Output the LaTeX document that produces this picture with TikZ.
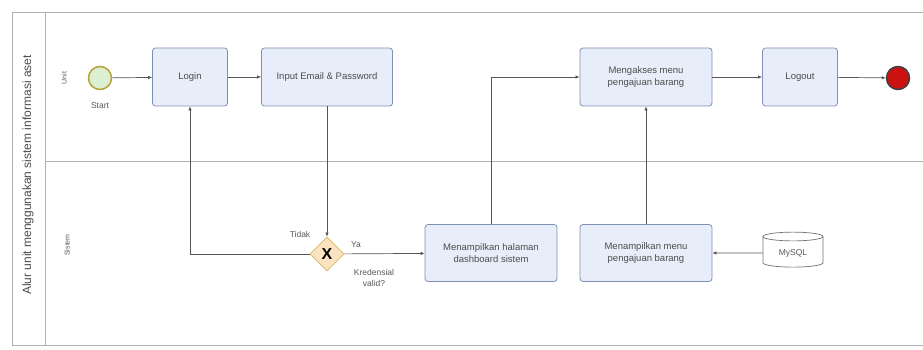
\documentclass[tikz,border=0pt]{standalone}
\usepackage{fontspec}
\setmainfont{Liberation Sans}
\usetikzlibrary{arrows.meta,shapes.geometric}
\definecolor{taskfill}{HTML}{E8EEF9}
\definecolor{taskline}{HTML}{7D8FB5}
\definecolor{flowline}{HTML}{555555}
\definecolor{poolline}{HTML}{B0B0B0}
\definecolor{startfill}{HTML}{DCEFD2}
\definecolor{startline}{HTML}{B5A33A}
\definecolor{endfill}{HTML}{CC1111}
\definecolor{gwfill}{HTML}{FBE3C0}
\definecolor{gwline}{HTML}{D7B766}
\begin{document}
\begin{tikzpicture}[x=1pt,y=-1pt,
    task/.style={draw=taskline,fill=taskfill,rounded corners=3pt,line width=0.8pt,
      align=center,font=\fontsize{9.5}{12.5}\selectfont,text=black!70,inner sep=2pt},
    small/.style={font=\fontsize{8.5}{11}\selectfont,text=black!65,align=center},
    flow/.style={draw=flowline,line width=0.7pt,-{Latex[length=4pt,width=3.5pt]}}]
  \useasboundingbox (0,0) rectangle (923,350);
  % pool and lanes
  \begin{scope}[draw=poolline,line width=0.8pt]
    \draw (923,12) -- (12,12) -- (12,345) -- (923,345);
    \draw (45,12) -- (45,345);
    \draw (45,161) -- (923,161);
  \end{scope}
  \draw
    (28,175) node[rotate=90,font=\fontsize{12}{14}\selectfont,text=black!70] (pool){Alur unit menggunakan sistem informasi aset}
    (64,78) node[rotate=90,small,font=\fontsize{7}{8}\selectfont] (laneunit){Unit}
    (67,245) node[rotate=90,small,font=\fontsize{7}{8}\selectfont] (lanesistem){Sistem};
  \draw
    (100,78) node[circle,draw=startline,fill=startfill,line width=1.5pt,minimum size=23pt,inner sep=0pt] (start){}
    (190,77) node[task,minimum width=75pt,minimum height=58pt] (login){Login}
    (327,77) node[task,minimum width=131pt,minimum height=58pt] (input){Input Email \& Password}
    (646,77) node[task,minimum width=132pt,minimum height=58pt] (akses){Mengakses menu\\pengajuan barang}
    (800,77) node[task,minimum width=75pt,minimum height=58pt] (logout){Logout}
    (898,78) node[circle,draw=black!75,fill=endfill,line width=1.5pt,minimum size=23pt,inner sep=0pt] (end){}
    (327,254) node[diamond,draw=gwline,fill=gwfill,line width=0.8pt,minimum size=34pt,inner sep=0pt,
      font=\fontsize{16}{16}\bfseries\selectfont] (gw){X}
    (491,253) node[task,minimum width=132pt,minimum height=57pt] (dash){Menampilkan halaman\\dashboard sistem}
    (646,253) node[task,minimum width=132pt,minimum height=57pt] (menu){Menampilkan menu\\pengajuan barang}
    (793,253) node[cylinder,shape border rotate=90,aspect=0.25,draw=black!55,fill=white,line width=0.7pt,
      minimum width=60pt,minimum height=35pt,small] (db){MySQL};
  \draw
    (100,106) node[small] (startlbl){Start}
    (300,234) node[small] (tidak){Tidak}
    (356,245) node[small] (ya){Ya}
    (374,278) node[small] (valid){Kredensial\\valid?};
  \begin{scope}[flow]
    \draw (start) to (login);
    \draw (login) to (input);
    \draw (input) to (gw);
    \draw (gw.west) -| (login.south);
    \draw (gw) to (dash);
    \draw (dash.north) |- (akses.west);
    \draw (menu) to (akses);
    \draw (db) to (menu);
    \draw (akses) to (logout);
    \draw (logout) to (end);
  \end{scope}
\end{tikzpicture}
\end{document}
